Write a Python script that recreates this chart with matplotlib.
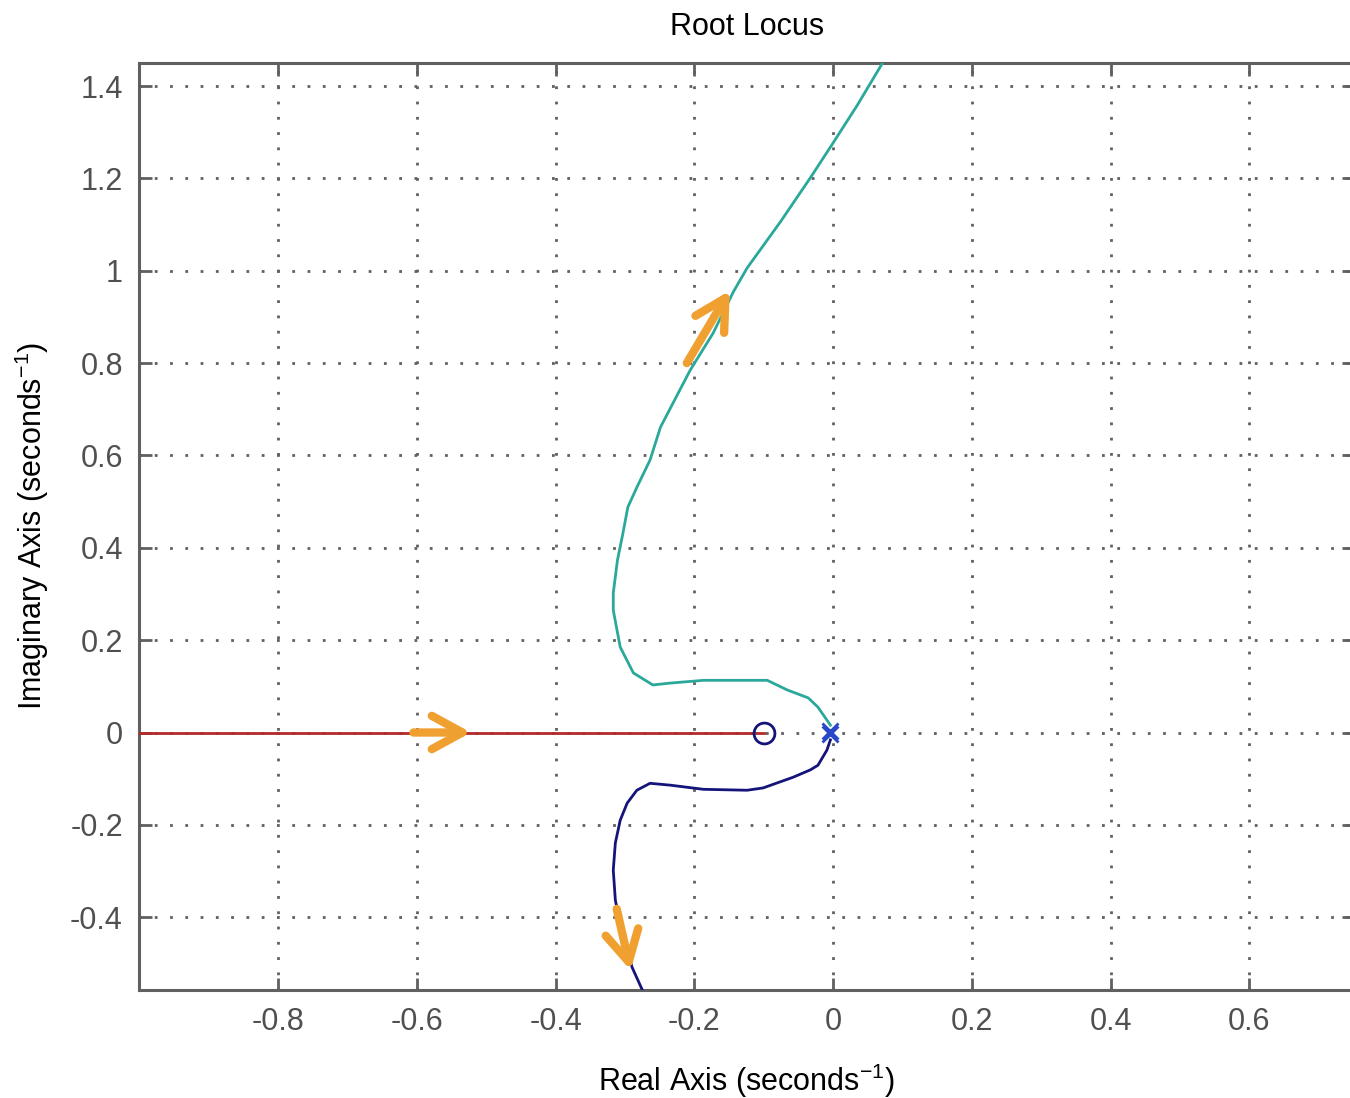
import matplotlib
matplotlib.use("Agg")
import matplotlib.pyplot as plt

plt.rcParams['font.family'] = ['Liberation Sans', 'DejaVu Sans']
plt.rcParams['mathtext.fontset'] = 'custom'
plt.rcParams['mathtext.rm'] = 'Liberation Sans'
plt.rcParams['axes.unicode_minus'] = False

# root locus branches
upper_re = [-0.004, -0.022, -0.036, -0.066, -0.095, -0.134, -0.187, -0.235, -0.260,
            -0.288, -0.307, -0.317, -0.317, -0.311, -0.303, -0.296, -0.283, -0.264,
            -0.249, -0.231, -0.206, -0.173, -0.144, -0.124, -0.076, -0.033, 0.000,
            0.035, 0.072]
upper_im = [0.016, 0.055, 0.075, 0.092, 0.113, 0.113, 0.113, 0.107, 0.103,
            0.129, 0.185, 0.265, 0.302, 0.373, 0.432, 0.488, 0.531, 0.590,
            0.661, 0.713, 0.785, 0.865, 0.954, 1.006, 1.106, 1.201, 1.277,
            1.359, 1.452]

lower_re = [-0.004, -0.009, -0.022, -0.033, -0.058, -0.101, -0.124, -0.187, -0.235,
            -0.264, -0.283, -0.297, -0.307, -0.314, -0.317, -0.314, -0.311, -0.300,
            -0.290, -0.275]
lower_im = [-0.016, -0.038, -0.071, -0.081, -0.097, -0.120, -0.125, -0.123, -0.114,
            -0.110, -0.125, -0.153, -0.190, -0.239, -0.298, -0.363, -0.385, -0.450,
            -0.508, -0.558]

real_re = [-1.0, -0.1]
real_im = [0.0, 0.0]

poles_re = [-0.004, -0.004]
poles_im = [0.004, -0.004]
zero_re = [-0.1]
zero_im = [0.0]

# direction arrows (start, end)
arrows = [((-0.605, 0.0), (-0.522, 0.0)),
          ((-0.211, 0.800), (-0.149, 0.957)),
          ((-0.312, -0.382), (-0.292, -0.515))]

xticks = [-0.8, -0.6, -0.4, -0.2, 0, 0.2, 0.4, 0.6]
yticks = [-0.4, -0.2, 0, 0.2, 0.4, 0.6, 0.8, 1, 1.2, 1.4]

fig = plt.figure(figsize=(13.5, 10.98), dpi=100)
ax = fig.add_axes([0.1033, 0.0984, 0.9, 0.8443])

ax.plot(real_re, real_im, color='#b22a2a', lw=2, zorder=3)
ax.plot(upper_re, upper_im, color='#2aa89a', lw=2, zorder=3)
ax.plot(lower_re, lower_im, color='#14147a', lw=2, zorder=3)
ax.plot(zero_re, zero_im, 'o', ms=15, mfc='none', mec='#14147a', mew=2, zorder=4)
ax.plot(poles_re, poles_im, 'x', ms=12, color='#2848c8', mew=2, zorder=4)

for (x0, y0), (x1, y1) in arrows:
    ax.annotate('', xy=(x1, y1), xytext=(x0, y0),
                arrowprops=dict(arrowstyle='->,head_length=1.1,head_width=0.6',
                                mutation_scale=20, shrinkA=0, shrinkB=0,
                                color='#f0a030', lw=6, capstyle='round',
                                joinstyle='round'),
                zorder=5)

ax.set_xlim(-1.0, -1.0 + (1.745 / (1 - 0.1033)) * 0.9)
ax.set_ylim(-0.5575, 1.45)

ax.set_xticks(xticks)
ax.set_xticklabels(['%g' % v for v in xticks])
ax.set_yticks(yticks)
ax.set_yticklabels(['%g' % v for v in yticks])

ax.grid(True, color='#606060', lw=2, linestyle=(0, (1, 4.5)))
ax.tick_params(direction='in', length=9, width=2, color='#606060',
               labelcolor='#505050', labelsize=22, top=True, right=True, pad=12)
for sp in ax.spines.values():
    sp.set_color('#606060')
    sp.set_linewidth(2.2)

ax.set_title('Root Locus', fontsize=22, pad=20)
ax.set_xlabel('Real Axis (seconds$^{-1}$)', fontsize=22, labelpad=18)
ax.set_ylabel('Imaginary Axis (seconds$^{-1}$)', fontsize=22, labelpad=14)

fig.savefig('out.png', dpi=100)
